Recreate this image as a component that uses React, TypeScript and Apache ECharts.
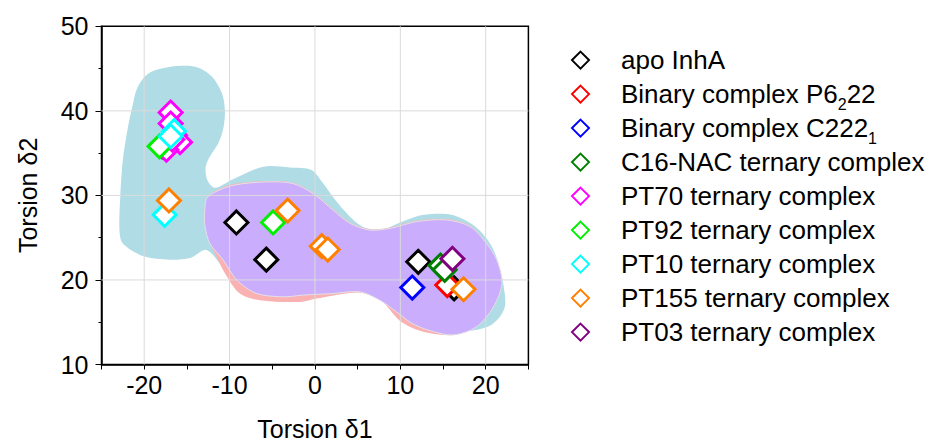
import React, { useEffect, useRef } from "react";
import * as echarts from "echarts";

// ---- axis ranges & ticks ----
const X_MIN = -25;
const X_MAX = 25;
const Y_MIN = 10;
const Y_MAX = 50;
const gridXTicks = [-20, -10, 0, 10, 20];
const gridYTicks = [20, 30, 40];

// ---- legend / series ----
const seriesNames = [
  "apo InhA",
  "Binary complex P6₂22",
  "Binary complex C222₁",
  "C16-NAC ternary complex",
  "PT70 ternary complex",
  "PT92 ternary complex",
  "PT10 ternary complex",
  "PT155 ternary complex",
  "PT03 ternary complex",
];
const seriesColors = [
  "#000000",
  "#ff0000",
  "#0000ff",
  "#008000",
  "#ff00ff",
  "#00ee00",
  "#00ffff",
  "#ff8000",
  "#800080",
];

// ---- points [torsion δ1, torsion δ2] ----
const apoInhA = [[-9.2, 26.8], [-5.7, 22.4], [12.1, 22.15], [16.3, 19.0]];
const binaryP6222 = [[15.5, 19.4]];
const binaryC2221 = [[11.4, 19.1]];
const c16NAC = [[-17.9, 35.8], [14.7, 21.7], [15.2, 21.2]];
const pt70 = [[-16.9, 39.8], [-16.9, 38.5], [-16.4, 37.1], [-15.8, 36.3], [-17.4, 35.4], [-16.7, 36.6]];
const pt92 = [[-18.2, 35.8], [-4.9, 26.8]];
const pt10 = [[-16.5, 37.6], [-16.9, 37.0], [-17.6, 27.7]];
const pt155 = [[-17.1, 29.4], [-3.2, 28.2], [0.8, 24.0], [1.5, 23.6], [17.4, 18.9]];
const pt03 = [[16.1, 22.5]];
const seriesData = [apoInhA, binaryP6222, binaryC2221, c16NAC, pt70, pt92, pt10, pt155, pt03];

// ---- shaded regions (outline vertices in data coordinates) ----
const blueRegion = [
  [-21.3, 40.9], [-20.9, 42.5], [-19.9, 44.1], [-18.55, 44.85], [-16.2, 45.3], [-13.9, 45.2],
  [-12.1, 44.1], [-10.9, 42.1], [-10.55, 40.1], [-10.7, 38.1], [-11.3, 36.2], [-12.3, 34.6],
  [-12.8, 33.4], [-12.6, 31.8], [-11.7, 30.9], [-9.6, 31.9], [-6.05, 33.4], [-2.9, 33.3],
  [-0.4, 33.0], [0.97, 31.4], [2.5, 29.3], [4.5, 27.1], [6.05, 26.1], [8.0, 26.0],
  [10.5, 27.0], [12.7, 27.7], [16.0, 27.7], [18.8, 26.3], [20.7, 24.0], [21.8, 20.8],
  [22.3, 17.2], [21.7, 15.7], [20.3, 14.5], [17.0, 14.0], [12.7, 16.0], [6.8, 19.6],
  [-2.9, 20.4], [-10.0, 21.0], [-12.7, 23.55], [-14.6, 22.6], [-17.0, 22.4], [-20.1, 22.8],
  [-22.5, 24.3], [-22.9, 25.9], [-22.8, 29.9], [-22.5, 34.2], [-21.9, 38.1],
];
const pinkRegion = [
  [-12.7, 29.6], [-11.9, 30.4], [-9.57, 31.35], [-5.66, 31.7], [-2.55, 31.5], [-0.2, 30.3],
  [2.14, 28.35], [4.1, 26.8], [6.45, 26.0], [8.8, 26.2], [11.9, 27.0], [15.4, 27.2],
  [18.2, 26.4], [20.1, 24.3], [21.3, 22.35], [21.9, 19.6], [20.9, 16.8], [18.9, 14.45],
  [16.2, 13.5], [13.5, 13.7], [11.7, 14.2], [9.8, 15.3], [7.8, 17.5], [5.27, 18.5],
  [0.2, 17.8], [-1.76, 17.4], [-6.45, 17.6], [-8.8, 18.4], [-10.55, 20.8], [-11.7, 23.1],
  [-12.3, 24.3], [-12.9, 26.5], [-12.9, 28.3],
];
const lavenderRegion = [
  [-12.7, 29.6], [-11.9, 30.3], [-9.57, 31.2], [-5.66, 31.6], [-2.55, 31.4], [-0.2, 30.2],
  [2.14, 28.25], [4.1, 26.7], [6.45, 25.9], [8.8, 26.1], [11.9, 26.9], [15.4, 27.1],
  [18.2, 26.3], [20.1, 24.3], [21.3, 22.35], [21.9, 19.6], [20.9, 16.8], [18.9, 14.45],
  [16.2, 13.5], [13.5, 14.0], [11.3, 14.9], [9.6, 16.2], [7.6, 17.6], [5.27, 18.6],
  [2.14, 18.4], [-1.5, 18.2], [-3.7, 18.0], [-6.83, 18.4], [-9.17, 20.0], [-10.74, 22.35],
  [-12.3, 24.3], [-12.9, 26.5], [-12.9, 28.3],
];
const regionColors = ["#b0dce6", "#f9b1b1", "#cbadfd"];

const FONT = "'Liberation Sans', Arial, sans-serif";

function regionSeries(region: number[][], fill: string, stroke: string) {
  return {
    type: "custom",
    silent: true,
    z: 1,
    data: region,
    renderItem: (params: any, api: any) => {
      if (params.dataIndex !== 0) return null;
      const pts = region.map((p) => api.coord(p));
      return {
        type: "polygon",
        shape: { points: pts, smooth: 0.3 },
        style: { fill, stroke, lineWidth: 1 },
      };
    },
  };
}

export default function App() {
  const ref = useRef<HTMLDivElement>(null);
  useEffect(() => {
    if (!ref.current) return;
    const chart = echarts.init(ref.current, null, { renderer: "svg" });

    const scatterSeries = seriesNames.map((name, i) => ({
      name,
      type: "scatter",
      z: 3,
      symbol: "diamond",
      symbolSize: 23,
      data: seriesData[i],
      itemStyle: { color: "#ffffff", borderColor: seriesColors[i], borderWidth: 3, opacity: 1 },
    }));

    const option: any = {
      animation: false,
      textStyle: { fontFamily: FONT },
      grid: {
        left: 101.5,
        right: 414.6,
        top: 26.3,
        bottom: 77.5,
        outerBoundsMode: "none",
        show: true,
        borderColor: "#000",
        borderWidth: 1.5,
        backgroundColor: "transparent",
      },
      legend: {
        orient: "vertical",
        left: 571,
        top: 42.1,
        padding: 0,
        itemWidth: 17,
        itemHeight: 17,
        itemGap: -2.0,
        data: seriesNames,
        itemStyle: { color: "#ffffff", borderWidth: 2 },
        formatter: (name: string) =>
          "{g| }" + name.replace("₂", "{s|2}").replace("₁", "{s|1}") + "{z| }",
        textStyle: {
          fontFamily: FONT,
          fontSize: 26,
          color: "#000",
          lineHeight: 26,
          rich: {
            g: { width: 27, lineHeight: 26, fontSize: 26 },
            s: { fontSize: 16, lineHeight: 4, padding: [20, 0, 0, 0], fontFamily: FONT, color: "#000" },
            z: { fontSize: 16, lineHeight: 4, width: 1, padding: [20, 0, 0, 0], fontFamily: FONT },
          },
        },
      },
      xAxis: {
        type: "value",
        min: X_MIN,
        max: X_MAX,
        interval: 5,
        name: "Torsion δ1",
        nameLocation: "middle",
        nameGap: 52,
        nameTextStyle: { fontSize: 25, color: "#000", fontFamily: FONT },
        axisLine: { show: true, onZero: false, lineStyle: { color: "#000", width: 1.5 } },
        axisTick: { show: true, length: 5, lineStyle: { color: "#000", width: 1 } },
        axisLabel: {
          fontSize: 25,
          color: "#000",
          margin: 8,
          fontFamily: FONT,
          formatter: (v: number) => (v % 10 === 0 ? String(v) : ""),
        },
        splitLine: { show: false },
      },
      yAxis: {
        type: "value",
        min: Y_MIN,
        max: Y_MAX,
        interval: 10,
        name: "Torsion δ2",
        nameLocation: "middle",
        nameGap: 61,
        nameTextStyle: { fontSize: 25, color: "#000", fontFamily: FONT },
        axisLine: { show: true, onZero: false, lineStyle: { color: "#000", width: 1.5 } },
        axisTick: { show: true, length: 6, lineStyle: { color: "#000", width: 1 } },
        minorTick: { show: true, splitNumber: 2, length: 3, lineStyle: { color: "#000", width: 1 } },
        axisLabel: { fontSize: 25, color: "#000", margin: 13, fontFamily: FONT },
        splitLine: { show: false },
      },
      series: [
        regionSeries(blueRegion, regionColors[0], "none"),
        regionSeries(pinkRegion, regionColors[1], "none"),
        regionSeries(lavenderRegion, regionColors[2], "#e4e0ea"),
        {
          type: "custom",
          silent: true,
          z: 2,
          data: gridXTicks.map((v) => [v, Y_MIN]),
          renderItem: (params: any, api: any) => {
            const a = api.coord([api.value(0), Y_MIN]);
            const b = api.coord([api.value(0), Y_MAX]);
            return {
              type: "line",
              shape: { x1: a[0], y1: a[1], x2: b[0], y2: b[1] },
              style: { stroke: "#dadada", lineWidth: 1 },
            };
          },
        },
        {
          type: "custom",
          silent: true,
          z: 2,
          data: gridYTicks.map((v) => [X_MIN, v]),
          renderItem: (params: any, api: any) => {
            const a = api.coord([X_MIN, api.value(1)]);
            const b = api.coord([X_MAX, api.value(1)]);
            return {
              type: "line",
              shape: { x1: a[0], y1: a[1], x2: b[0], y2: b[1] },
              style: { stroke: "#dadada", lineWidth: 1 },
            };
          },
        },
        ...scatterSeries,
      ],
    };
    chart.setOption(option);
    return () => chart.dispose();
  }, []);

  return (
    <div
      ref={ref}
      style={{ position: "fixed", left: 0, top: 0, width: 943, height: 442, background: "#fff" }}
    />
  );
}
